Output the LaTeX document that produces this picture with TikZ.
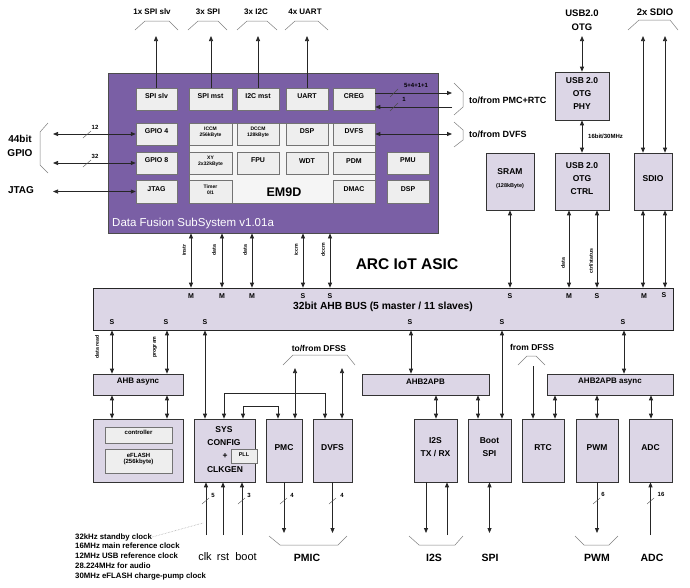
\documentclass[tikz,border=0pt]{standalone}
\usepackage{fontspec}
\setmainfont{Liberation Sans}
\usetikzlibrary{arrows.meta,fit}
\definecolor{lav}{HTML}{DCD6E6}
\definecolor{dfpurple}{HTML}{7A5FA5}
\definecolor{ibfill}{HTML}{EEEEEE}
\newcommand\mybox[5]{\node[#1, fit={(#2) (#3)}] (#4) {#5};}
\begin{document}
\begin{tikzpicture}[x=1pt,y=-1pt, >={Triangle[length=5pt,width=4pt]},
 con/.style={line width=0.75pt, draw=black!85},
 blk/.style={draw=black!80, fill=lav, line width=0.6pt, inner sep=0pt, align=center, font=\fontsize{8.5}{13}\selectfont\bfseries},
 sblk/.style={blk, font=\fontsize{8}{9}\selectfont\bfseries},
 ib/.style={draw=black!55, fill=ibfill, line width=0.5pt, inner sep=0pt, align=center, font=\fontsize{7}{8}\selectfont\bfseries},
 tib/.style={ib, font=\fontsize{5}{6}\selectfont\bfseries},
 brk/.style={draw=black!50, line width=0.5pt},
 tck/.style={draw=black!70, line width=0.4pt},
 ms/.style={font=\fontsize{7}{7}\selectfont\bfseries, inner sep=0pt},
 rl/.style={rotate=90, font=\fontsize{5.2}{5}\selectfont\bfseries, inner sep=0pt},
 nl/.style={font=\fontsize{6}{6}\selectfont\bfseries, inner sep=0pt},
 lbl/.style={font=\fontsize{8}{10}\selectfont\bfseries, inner sep=0pt, align=center},
 blbl/.style={font=\fontsize{10.5}{12}\selectfont\bfseries, inner sep=0pt, align=center},
]
\useasboundingbox (0,0) rectangle (690,587);
\fill[white] (0,0) rectangle (690,587);

% outer ASIC
\node[draw=black!85, double=white, double distance=1.2pt, line width=0.6pt, fit={(79,50) (687,509)}, inner sep=0pt] (asic) {};

% DFSS
\node[draw=black!70, fill=dfpurple, line width=0.8pt, fit={(108,73) (438,233)}, inner sep=0pt] (dfss) {};
\node[draw=black!55, fill=gray!8, fit={(189,123) (375,203)}, inner sep=0pt, line width=0.5pt] (core) {};
\mybox{ib}{136,88}{177,110}{spislv}{SPI slv}
\mybox{ib}{189,88}{232,110}{spimst}{SPI mst}
\mybox{ib}{237,88}{279,110}{i2cmst}{I2C mst}
\mybox{ib}{286,88}{328,110}{uart}{UART}
\mybox{ib}{333,88}{375,110}{creg}{CREG}
\mybox{ib}{136,123}{177,145}{gpio4}{GPIO 4}
\mybox{tib}{189,123}{232,145}{iccm}{ICCM\\256kByte}
\mybox{tib}{237,123}{279,145}{dccm}{DCCM\\128kByte}
\mybox{ib}{286,123}{328,145}{dspa}{DSP}
\mybox{ib}{333,123}{375,145}{dvfsa}{DVFS}
\mybox{ib}{136,152}{177,174}{gpio8}{GPIO 8}
\mybox{tib}{189,152}{232,174}{xy}{XY\\2x32kByte}
\mybox{ib}{237,152}{279,174}{fpu}{FPU}
\mybox{ib}{286,152}{328,174}{wdt}{WDT}
\mybox{ib}{333,152}{375,174}{pdm}{PDM}
\mybox{ib}{387,152}{429,174}{pmu}{PMU}
\mybox{ib}{136,180}{177,203}{jtagb}{JTAG}
\mybox{tib}{189,180}{232,203}{timer}{Timer\\0/1}
\mybox{ib}{333,180}{375,203}{dmac}{DMAC}
\mybox{ib}{387,180}{429,203}{dspb}{DSP}
\node[font=\fontsize{12.5}{13}\selectfont\bfseries, inner sep=0pt] (em9d) at (284,192) {EM9D};
\node[anchor=west, text=white, font=\fontsize{11.5}{12}\selectfont, inner sep=0pt] (dfsslbl) at (112,224) {Data Fusion SubSystem v1.01a};

% right upper blocks
\mybox{blk}{555,72}{609,120}{phy}{USB 2.0\\OTG\\PHY}
\mybox{blk}{555,153}{609,210}{ctrl}{USB 2.0\\OTG\\CTRL}
\node[blk, fit={(486,153) (534,210)}, font=\fontsize{8.5}{13}\selectfont\bfseries] (sram) {SRAM\\{\fontsize{5.5}{6}\selectfont(128kByte)}};
\mybox{blk}{634,153}{672,210}{sdio}{SDIO}

% bus
\node[draw=black!85, fill=lav, line width=0.6pt, fit={(93,288) (673,330)}, inner sep=0pt] (bus) {};
\node[font=\fontsize{10.3}{11}\selectfont\bfseries, inner sep=0pt] (bustxt) at (383,307) {32bit AHB BUS (5 master / 11 slaves)};
\node[font=\fontsize{15.5}{16}\selectfont\bfseries, inner sep=0pt] (asictxt) at (407,264) {ARC IoT ASIC};

% lower blocks
\mybox{sblk}{93,374}{183,395}{ahbasync}{AHB async}
\node[draw=black!80, fill=lav, line width=0.6pt, fit={(93,419) (183,482)}, inner sep=0pt] (flash) {};
\mybox{tib}{105,427}{172,443}{flctrl}{\fontsize{6}{7}\selectfont controller}
\mybox{tib}{105,449}{172,473}{flmem}{\fontsize{6}{8}\selectfont eFLASH\\(256kbyte)}
\node[draw=black!80, fill=lav, line width=0.6pt, fit={(194,419) (255,482)}, inner sep=0pt] (sys) {};
\node[font=\fontsize{8.5}{9}\selectfont\bfseries, inner sep=0pt] (sys1) at (224,430) {SYS};
\node[font=\fontsize{8.5}{9}\selectfont\bfseries, inner sep=0pt] (sys2) at (224,443) {CONFIG};
\node[font=\fontsize{8.5}{9}\selectfont\bfseries, inner sep=0pt] (sys3) at (225,470) {CLKGEN};
\node[font=\fontsize{8.5}{9}\selectfont\bfseries, inner sep=0pt] (plus) at (225,456) {+};
\mybox{tib}{231,449}{257,463}{pll}{\fontsize{5.5}{6}\selectfont PLL}
\mybox{blk}{266,419}{302,482}{pmc}{PMC}
\mybox{blk}{313,419}{352,482}{dvfsb}{DVFS}
\mybox{sblk}{362,374}{489,395}{ahb2apb}{AHB2APB}
\mybox{sblk}{547,374}{673,395}{ahb2apba}{AHB2APB async}
\mybox{blk}{414,419}{457,482}{i2s}{I2S\\TX / RX}
\mybox{blk}{468,419}{511,482}{bootspi}{Boot\\SPI}
\mybox{blk}{522,419}{564,482}{rtc}{RTC}
\mybox{blk}{576,419}{618,482}{pwm}{PWM}
\mybox{blk}{629,419}{672,482}{adc}{ADC}

% ---- top labels and brackets
\node[lbl] (tl1) at (152,12) {1x SPI slv};
\node[lbl] (tl2) at (208,12) {3x SPI};
\node[lbl] (tl3) at (256,12) {3x I2C};
\node[lbl] (tl4) at (305,12) {4x UART};
\node[lbl, font=\fontsize{9.5}{14}\selectfont\bfseries] (tl5) at (582,20) {USB2.0\\OTG};
\node[lbl, font=\fontsize{9.5}{10}\selectfont\bfseries] (tl6) at (655,12) {2x SDIO};
\draw[brk] (135,30) -- (145,21) -- (169,21) -- (178,30);
\draw[brk] (188,30) -- (198,21) -- (218,21) -- (227,30);
\draw[brk] (237,30) -- (247,21) -- (267,21) -- (277,30);
\draw[brk] (285,30) -- (295,21) -- (318,21) -- (328,30);
\draw[brk] (628,30) -- (639,20) -- (670,20) -- (678,30);

\coordinate (t1) at (156,36);
\coordinate (t2) at (211,36);
\coordinate (t3) at (258,36);
\coordinate (t4) at (307,36);
\coordinate (tu) at (582,36);
\coordinate (sd1) at (643,36);
\coordinate (sd2) at (665,36);
\draw[con,->] (spislv.north -| t1) -- (t1);
\draw[con,->] (spimst.north -| t2) -- (t2);
\draw[con,->] (i2cmst.north -| t3) -- (t3);
\draw[con,->] (uart.north -| t4) -- (t4);
\draw[con,<->] (phy.north -| tu) -- (tu);
\draw[con,<->] (sdio.north -| sd1) -- (sd1);
\draw[con,<->] (sdio.north -| sd2) -- (sd2);
\draw[con,<->] (phy.south) -- (ctrl.north);
\node[anchor=west, font=\fontsize{6}{6}\selectfont\bfseries, inner sep=0pt] (usbbw) at (588,136) {16bit/30MHz};

% ---- left side
\node[font=\fontsize{10}{14}\selectfont\bfseries, inner sep=0pt, align=center] (gpiol) at (20,146) {44bit\\GPIO};
\node[font=\fontsize{10}{10}\selectfont\bfseries, inner sep=0pt] (jtagl) at (21,190) {JTAG};
\draw[brk] (48,123) -- (40,132) -- (40,165) -- (48,173);
\coordinate (g4) at (53,134);
\coordinate (g8) at (53,163);
\coordinate (gj) at (53,191.5);
\draw[con,<->] (g4) -- (g4 -| gpio4.west);
\draw[con,<->] (g8) -- (g8 -| gpio8.west);
\draw[con,<->] (gj) -- (gj -| jtagb.west);
\draw[tck] (83,138) -- (91,131);
\draw[tck] (83,167) -- (91,160);
\node[nl] (n12) at (95,127) {12};
\node[nl] (n32) at (95,156) {32};

% ---- right of DFSS
\coordinate (c1) at (452,93);
\coordinate (c2) at (452,107);
\coordinate (c3) at (452,134);
\draw[con,->] (creg.east |- c1) -- (c1);
\draw[con,->] (c2) -- (c2 -| creg.east);
\draw[con,<->] (dvfsa.east) -- (dvfsa.east -| c3);
\draw[tck] (390,97) -- (398,89);
\draw[tck] (390,111) -- (398,103);
\node[nl] (n5411) at (416,85) {5+4+1+1};
\node[nl] (n1) at (404,99) {1};
\draw[brk] (454,83) -- (463,92) -- (463,107) -- (454,115);
\draw[brk] (454,122) -- (463,130) -- (463,140) -- (454,147);
\node[anchor=west, font=\fontsize{9}{10}\selectfont\bfseries, inner sep=0pt] (tf1) at (469,100) {to/from PMC+RTC};
\node[anchor=west, font=\fontsize{9}{10}\selectfont\bfseries, inner sep=0pt] (tf2) at (469,134) {to/from DVFS};

% ---- DFSS to bus
\coordinate (m1) at (191,0);
\coordinate (m2) at (222,0);
\coordinate (m3) at (252,0);
\coordinate (m4) at (303,0);
\coordinate (m5) at (330,0);
\foreach \c in {m1,m2,m3,m4,m5} \draw[con,<->] (dfss.south -| \c) -- (bus.north -| \c);
\node[rl] (r1) at (184,250) {instr};
\node[rl] (r2) at (214,250) {data};
\node[rl] (r3) at (245,250) {data};
\node[rl] (r4) at (296,250) {iccm};
\node[rl] (r5) at (323,250) {dccm};
\coordinate (u1) at (569,0);
\coordinate (u2) at (597,0);
\draw[con,<->] (sram.south) -- (bus.north -| sram.south);
\draw[con,<->] (ctrl.south -| u1) -- (bus.north -| u1);
\draw[con,<->] (ctrl.south -| u2) -- (bus.north -| u2);
\draw[con,<->] (sdio.south -| sd1) -- (bus.north -| sd1);
\draw[con,<->] (sdio.south -| sd2) -- (bus.north -| sd2);
\node[rl] (r6) at (563,263) {data};
\node[rl] (r7) at (591,261) {ctrl/status};

% M/S markers
\node[ms] (ms1) at (191,296) {M};
\node[ms] (ms2) at (222,296) {M};
\node[ms] (ms3) at (252,296) {M};
\node[ms] (ms4) at (303,296) {S};
\node[ms] (ms5) at (330,296) {S};
\node[ms] (ms6) at (510,296) {S};
\node[ms] (ms7) at (569,296) {M};
\node[ms] (ms8) at (597,296) {S};
\node[ms] (ms9) at (644,296) {M};
\node[ms] (ms10) at (664,295) {S};
\node[ms] (ms11) at (112,322) {S};
\node[ms] (ms12) at (166,322) {S};
\node[ms] (ms13) at (205,322) {S};
\node[ms] (ms14) at (410,322) {S};
\node[ms] (ms15) at (502,322) {S};
\node[ms] (ms16) at (623,322) {S};

% ---- below bus
\coordinate (b1) at (112,0);
\coordinate (b2) at (167,0);
\coordinate (b3) at (205,0);
\coordinate (b4) at (411,0);
\coordinate (b5) at (502,0);
\coordinate (b6) at (624,0);
\draw[con,<->] (bus.south -| b1) -- (ahbasync.north -| b1);
\draw[con,<->] (bus.south -| b2) -- (ahbasync.north -| b2);
\draw[con,<->] (ahbasync.south -| b1) -- (flash.north -| b1);
\draw[con,<->] (ahbasync.south -| b2) -- (flash.north -| b2);
\draw[con,<->] (bus.south -| b3) -- (sys.north -| b3);
\draw[con,<->] (bus.south -| b4) -- (ahb2apb.north -| b4);
\draw[con,<->] (bus.south -| b5) -- (bootspi.north -| b5);
\draw[con,<->] (bus.south -| b6) -- (ahb2apba.north -| b6);
\node[rl] (r8) at (97,347) {data read};
\node[rl] (r9) at (155,347) {program};

\coordinate (x1) at (436,0);
\coordinate (x2) at (478,0);
\coordinate (x3) at (555,0);
\coordinate (x4) at (597,0);
\coordinate (x5) at (651,0);
\draw[con,<->] (ahb2apb.south -| x1) -- (i2s.north -| x1);
\draw[con,<->] (ahb2apb.south -| x2) -- (bootspi.north -| x2);
\draw[con,<->] (ahb2apba.south -| x3) -- (rtc.north -| x3);
\draw[con,<->] (ahb2apba.south -| x4) -- (pwm.north -| x4);
\draw[con,<->] (ahb2apba.south -| x5) -- (adc.north -| x5);

% SYS / PMC / DVFS interconnects
\coordinate (e1) at (224,393);
\coordinate (e2) at (325,393);
\coordinate (e3) at (243,406);
\coordinate (e4) at (278,406);
\draw[con,<->] (sys.north -| e1) -- (e1) -- (e2) -- (dvfsb.north -| e2);
\draw[con,<->] (sys.north -| e3) -- (e3) -- (e4) -- (pmc.north -| e4);
\coordinate (p1) at (295,368);
\coordinate (p2) at (342,368);
\draw[con,<->] (pmc.north -| p1) -- (p1);
\draw[con,<->] (dvfsb.north -| p2) -- (p2);
\draw[brk] (283,365) -- (293,355) -- (347,355) -- (355,365);
\node[lbl, font=\fontsize{8.5}{9}\selectfont\bfseries] (tfd) at (319,348) {to/from DFSS};
\coordinate (rd) at (533,366);
\draw[con,->] (rd) -- (rtc.north -| rd);
\draw[brk] (518,365) -- (527,356) -- (536,356) -- (545,365);
\node[lbl, font=\fontsize{8.5}{9}\selectfont\bfseries] (fd) at (532,347) {from DFSS};

% ---- bottom
\coordinate (k1) at (206,535);
\coordinate (k2) at (223,535);
\coordinate (k3) at (242,535);
\draw[con,->] (k1) -- (k1 |- sys.south);
\draw[con,->] (k2) -- (k2 |- sys.south);
\draw[con,->] (k3) -- (k3 |- sys.south);
\draw[tck] (202,504) -- (209,498);
\draw[tck] (238,504) -- (245,498);
\node[nl] (n5) at (213,495) {5};
\node[nl] (n3) at (249,495) {3};

\coordinate (q1) at (284,533);
\coordinate (q2) at (332.5,533);
\draw[con,->] (pmc.south -| q1) -- (q1);
\draw[con,->] (dvfsb.south -| q2) -- (q2);
\draw[tck] (280,504) -- (287,498);
\draw[tck] (329,504) -- (336,498);
\node[nl] (n4a) at (292,495) {4};
\node[nl] (n4b) at (342,495) {4};
\draw[brk] (269,536) -- (280,545) -- (338,545) -- (347,536);

\coordinate (i1) at (426,533);
\coordinate (i2) at (447,535);
\draw[con,->] (i2s.south -| i1) -- (i1);
\draw[con,->] (i2) -- (i2 |- i2s.south);
\draw[brk] (409,536) -- (419,545) -- (455,545) -- (463,536);
\coordinate (s1) at (489.5,533);
\draw[con,<->] (bootspi.south) -- (s1);
\coordinate (w1) at (597,533);
\draw[con,->] (pwm.south) -- (w1);
\draw[tck] (593,504) -- (600,498);
\node[nl] (n6) at (603,494) {6};
\draw[brk] (575,536) -- (584,545) -- (609,545) -- (618,536);
\coordinate (a1) at (650.5,535);
\draw[con,->] (a1) -- (adc.south);
\draw[tck] (647,504) -- (654,498);
\node[nl] (n16) at (661,494) {16};

\node[blbl] (pmicl) at (307,558) {PMIC};
\node[blbl] (i2sl) at (434,558) {I2S};
\node[blbl] (spil) at (490,558) {SPI};
\node[blbl] (pwml) at (597,558) {PWM};
\node[blbl] (adcl) at (652,558) {ADC};
\node[font=\fontsize{11}{12}\selectfont, inner sep=0pt] (clkl) at (205,557) {clk};
\node[font=\fontsize{11}{12}\selectfont, inner sep=0pt] (rstl) at (223,557) {rst};
\node[font=\fontsize{11}{12}\selectfont, inner sep=0pt] (bootl) at (246,557) {boot};

\node[anchor=west, font=\fontsize{7.8}{10}\selectfont\bfseries, inner sep=0pt] (ck1) at (75,537) {32kHz standby clock};
\node[anchor=north west, align=left, font=\fontsize{7.8}{10}\selectfont\bfseries, inner sep=0pt] (ck2) at (75,543) {16MHz main reference clock\\12MHz USB reference clock\\28.224MHz for audio\\30MHz eFLASH charge-pump clock};
\coordinate (dt) at (203,523);
\draw[densely dotted, black!40, line width=0.5pt] (ck1.east) -- (dt);
\end{tikzpicture}
\end{document}
